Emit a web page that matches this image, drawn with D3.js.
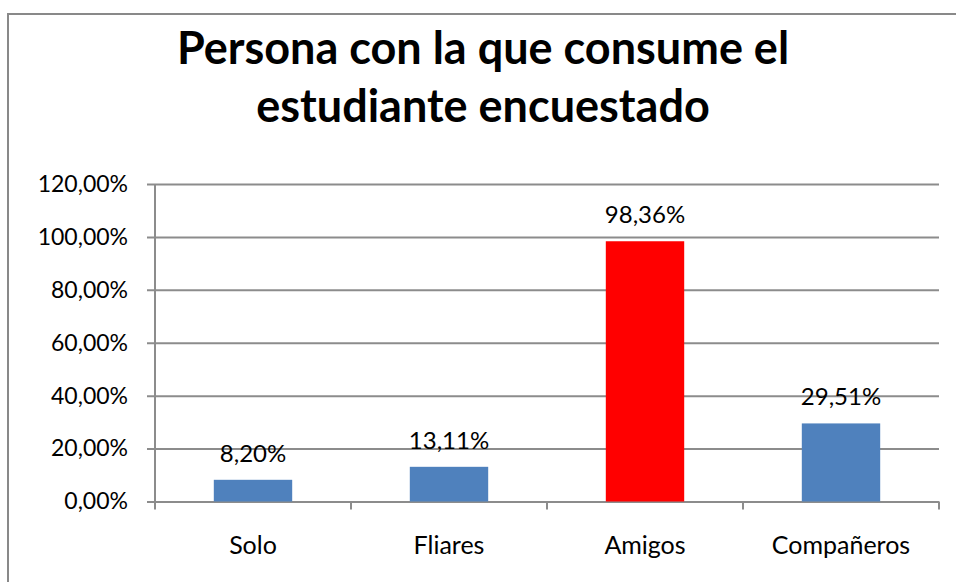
<!DOCTYPE html>
<html>
<head>
<meta charset="utf-8">
<script src="https://cdn.jsdelivr.net/npm/d3@7/dist/d3.min.js"></script>
<style>
  body { margin: 0; background: #fff; }
  svg { display: block; }
  text { font-family: Lato, "Open Sans", sans-serif; fill: #000; }
</style>
</head>
<body>
<div id="chart"></div>
<script>
// Chart data
const categories = ['Solo', 'Fliares', 'Amigos', 'Compañeros'];
const values = [0.0820, 0.1311, 0.9836, 0.2951];
const barColors = ['#4F81BD', '#4F81BD', '#FF0000', '#4F81BD'];
const yTicks = [0, 0.2, 0.4, 0.6, 0.8, 1.0, 1.2];
const titleLines = ['Persona con la que consume el', 'estudiante encuestado'];

const width = 956, height = 582;
const plot = { left: 155, right: 939, top: 184, bottom: 501.5 };

const locale = d3.formatLocale({ decimal: ',', thousands: '.', grouping: [3], currency: ['', '€'] });
const pct = locale.format('.2%');

const svg = d3.select('#chart').append('svg')
    .attr('width', width)
    .attr('height', height);

// Chart frame (runs past the right/bottom edges like the reference)
svg.append('rect')
    .attr('x', 8).attr('y', 14)
    .attr('width', 1000).attr('height', 1000)
    .attr('fill', 'none')
    .attr('stroke', '#898989')
    .attr('stroke-width', 2);

// Title
svg.append('g')
    .selectAll('text')
    .data(titleLines)
    .enter().append('text')
    .attr('x', 483)
    .attr('y', (d, i) => 64 + i * 58)
    .attr('text-anchor', 'middle')
    .attr('font-size', '45px')
    .attr('font-weight', 'bold')
    .text(d => d);

const x = d3.scaleBand()
    .domain(categories)
    .range([plot.left, plot.right])
    .paddingInner(0.6)
    .paddingOuter(0.3);

const y = d3.scaleLinear()
    .domain([0, 1.2])
    .range([plot.bottom, plot.top]);

// Gridlines + y axis
const yAxis = svg.append('g')
    .attr('transform', `translate(${plot.left},0)`)
    .call(d3.axisLeft(y)
        .tickValues(yTicks)
        .tickSize(8)
        .tickPadding(19)
        .tickFormat(pct));

yAxis.select('.domain').remove();
yAxis.selectAll('.tick line')
    .attr('x2', plot.right - plot.left)
    .attr('x1', -8)
    .attr('stroke', '#8c8c8c')
    .attr('stroke-width', 2);
yAxis.selectAll('.tick text')
    .attr('font-size', '23px')
    .attr('font-family', 'Lato, sans-serif');

// vertical axis line
svg.append('line')
    .attr('x1', plot.left).attr('x2', plot.left)
    .attr('y1', plot.top).attr('y2', plot.bottom)
    .attr('stroke', '#8c8c8c')
    .attr('stroke-width', 2);

// x axis ticks at category boundaries
const step = x.step();
const boundaries = d3.range(categories.length + 1).map(i => plot.left + i * step);
svg.append('g')
    .selectAll('line')
    .data(boundaries)
    .enter().append('line')
    .attr('x1', d => d).attr('x2', d => d)
    .attr('y1', plot.bottom).attr('y2', plot.bottom + 8)
    .attr('stroke', '#8c8c8c')
    .attr('stroke-width', 2);

// Bars
svg.append('g')
    .selectAll('rect')
    .data(values)
    .enter().append('rect')
    .attr('x', (d, i) => x(categories[i]))
    .attr('y', d => y(d))
    .attr('width', x.bandwidth())
    .attr('height', d => y(0) - y(d))
    .attr('fill', (d, i) => barColors[i]);

// Value labels
svg.append('g')
    .selectAll('text')
    .data(values)
    .enter().append('text')
    .attr('x', (d, i) => x(categories[i]) + x.bandwidth() / 2)
    .attr('y', d => y(d) - 18)
    .attr('text-anchor', 'middle')
    .attr('font-size', '24px')
    .text(d => pct(d));

// Category labels
svg.append('g')
    .selectAll('text')
    .data(categories)
    .enter().append('text')
    .attr('x', d => x(d) + x.bandwidth() / 2)
    .attr('y', 554)
    .attr('text-anchor', 'middle')
    .attr('font-size', '25px')
    .text(d => d);
</script>
</body>
</html>
